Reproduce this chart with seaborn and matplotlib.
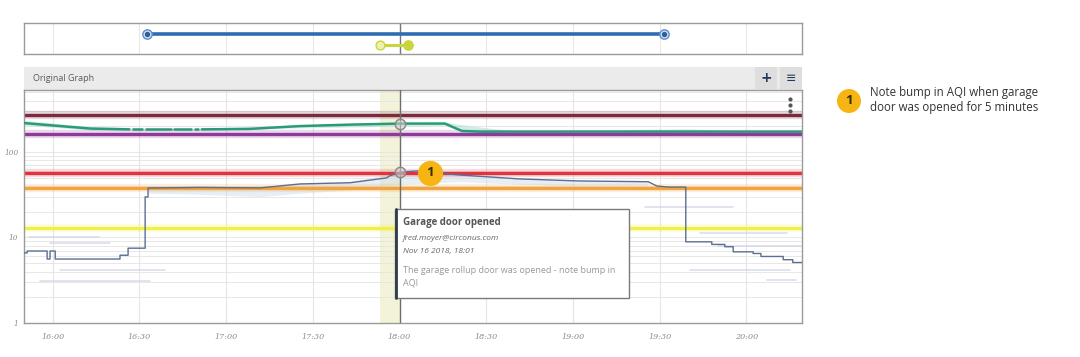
import numpy as np
import pandas as pd
import matplotlib
matplotlib.use("Agg")
import matplotlib.pyplot as plt
import seaborn as sns
from matplotlib.patches import Rectangle, Ellipse
from matplotlib.lines import Line2D
from matplotlib.ticker import LogLocator, NullFormatter

# ------------------------------------------------------------------ data
tick_minutes = [960, 990, 1020, 1050, 1080, 1110, 1140, 1170, 1200]
tick_labels = ['16:00', '16:30', '17:00', '17:30', '18:00', '18:30', '19:00', '19:30', '20:00']
ytick_values = [1, 10, 100]
ytick_labels = ['1', '10', '100']

# AQI series (minutes after midnight, value); repeated minutes mark vertical steps
aqi_minutes = [950.1, 951.2, 951.2, 958.1, 958.1, 959.1, 959.1, 960.9, 960.9, 983.3, 983.3,
               986.1, 986.1, 992.0, 992.0, 993.0, 993.0, 1011, 1031.7, 1045.6, 1062.9,
               1074.0, 1075.5, 1076.5, 1080.2, 1086, 1100.9, 1121.6, 1142.4, 1166, 1169,
               1173, 1179, 1179, 1188, 1188, 1192.5, 1192.5, 1195.4, 1195.4, 1202.3,
               1202.3, 1205, 1205, 1212.7, 1212.7, 1216, 1216, 1219.2]
aqi_values = [6.6, 6.6, 6.95, 6.95, 5.6, 5.6, 6.95, 6.95, 5.6, 5.6, 6.2,
              6.2, 7.5, 7.5, 29.8, 29.8, 37.9, 38.5, 38.0, 42.3, 43.7,
              49.0, 49.7, 52.4, 58.3, 60, 53.8, 48.4, 45.8, 44.9, 40,
              38.9, 38.9, 8.9, 8.9, 8.3, 8.3, 7.8, 7.8, 6.8, 6.8,
              6.5, 6.5, 6.0, 6.0, 5.5, 5.5, 5.1, 5.1]

# AQI min band (light shading)
aqi_band_minutes = [993, 1011, 1031.7, 1045.6, 1062.9, 1080.2, 1100.9, 1121.6, 1142.4, 1166]
aqi_band_low = [33, 32, 30, 33, 36, 42, 45, 42, 40, 41]
aqi_band_high = [39, 39.5, 39, 43, 45, 58, 55, 49, 47, 45]

# second (green) series; NaN marks the short gaps in the data
green_minutes = [950.1, 962.6, 973, 986.5, 987.0, 987.8, 991.0, 991.5, 992.2, 1000.8, 1001.3,
                 1002.0, 1008.0, 1008.5, 1009.2, 1010.4, 1010.9, 1011.6, 1028, 1045.6, 1062.9,
                 1080.2, 1095.7, 1101.6, 1108, 1219.2]
green_values = [218, 201, 188, 184, np.nan, 184, 184, np.nan, 184, 184, np.nan,
                184, 184, np.nan, 184, 184, np.nan, 184, 186, 201, 209,
                215, 215, 176, 173, 173]
green_band_minutes = [950.1, 962.6, 973, 990, 1010, 1040, 1095.7, 1101.6, 1110, 1120, 1165, 1180, 1200]
green_band_low = [205, 192, 180, 178, 179, 190, 205, 172, 170, 171, 171, 171, 171]
green_band_high = [235, 214, 198, 192, 189, 205, 224, 208, 192, 176, 184, 186, 176]

# constant threshold lines
threshold_values = [271, 162, 56.8, 37.9, 12.9]
threshold_colors = ['#7a2b3e', '#8f3a99', '#e2323e', '#f3a43d', '#f0f04c']

# faint secondary series segments (start minute, end minute, value)
faint_start = [959, 962.6, 955.7, 952, 1165, 1184, 1180.5, 1207, 1190]
faint_end = [980, 999, 993.7, 976, 1195.4, 1214, 1215, 1217, 1219]
faint_values = [8.6, 4.16, 3.1, 10.1, 22.9, 11.2, 4.16, 3.2, 8.0]

# annotation
event_start = 1073.1
event_minute = 1080.2
note_title = 'Garage door opened'
note_author = 'fred.moyer@circonus.com'
note_time = 'Nov 16 2018, 18:01'
note_body = 'The garage rollup door was opened - note bump in\nAQI'
side_note = 'Note bump in AQI when garage\ndoor was opened for 5 minutes'

# overview strip
overview_blue = [992.7, 1171.4]
overview_yellow = [1073.3, 1083.0]

# ------------------------------------------------------------------ style
sns.set_theme(style='white')
plt.rcParams['font.family'] = ['Open Sans', 'DejaVu Sans']

W, H = 1080, 357
fig = plt.figure(figsize=(W / 100, H / 100), dpi=100)
fig.patch.set_facecolor('white')


def box(x0, y0, x1, y1):
    return [x0 / W, 1 - y1 / H, (x1 - x0) / W, (y1 - y0) / H]


XMIN, XMAX = 950.1, 1219.2

# ------------------------------------------------------------------ overview strip
axt = fig.add_axes(box(24, 23, 802, 54))
axt.set_xlim(XMIN, XMAX)
axt.set_ylim(0, 1)
axt.set_xticks(tick_minutes)
axt.set_yticks([])
axt.tick_params(axis='x', length=0, labelbottom=False)
axt.grid(axis='x', color='#e8e8e8', lw=0.8)
for s in axt.spines.values():
    s.set_color('#9a9a9a')
    s.set_linewidth(1)
sns.lineplot(x=overview_blue, y=[0.645, 0.645], color='#2f6db3', lw=2.6, ax=axt, zorder=3)
axt.scatter([overview_blue[0], overview_blue[1]], [0.645, 0.645], s=45, facecolor='#cfe0f2',
            edgecolor='#5b8fcc', lw=1, zorder=4)
axt.scatter([overview_blue[0], overview_blue[1]], [0.645, 0.645], s=8, color='#2f5f9a', zorder=5)
sns.lineplot(x=overview_yellow, y=[0.29, 0.29], color='#c9d53c', lw=2.2, ax=axt, zorder=3)
axt.scatter([overview_yellow[0]], [0.29], s=40, facecolor='#eef2b0', edgecolor='#c9d53c', lw=1, zorder=4)
axt.scatter([overview_yellow[1]], [0.29], s=45, color='#c9d53c', zorder=4)
axt.axvline(event_minute, color='#777777', lw=1, zorder=2)
axt.set_xlabel('')
axt.set_ylabel('')

# ------------------------------------------------------------------ header bar
fig.add_artist(Rectangle((24 / W, 1 - 90 / H), 778 / W, 23 / H, transform=fig.transFigure,
                         facecolor='#ebebeb', edgecolor='none', zorder=0))
fig.add_artist(Rectangle((755 / W, 1 - 89 / H), 22 / W, 22 / H, transform=fig.transFigure,
                         facecolor='#dedede', edgecolor='none', zorder=1))
fig.add_artist(Rectangle((780 / W, 1 - 89 / H), 22 / W, 22 / H, transform=fig.transFigure,
                         facecolor='#dedede', edgecolor='none', zorder=1))
fig.text(33 / W, 1 - 78.5 / H, 'Original Graph', fontsize=6.5, color='#5a5a5a', va='center', ha='left')
fig.text(766 / W, 1 - 78.5 / H, '+', fontsize=10, color='#1f3a5a', va='center', ha='center',
         fontweight='bold', family='DejaVu Sans')
fig.text(791 / W, 1 - 78.5 / H, '≡', fontsize=9, color='#1f3a5a', va='center', ha='center',
         family='DejaVu Sans')

# ------------------------------------------------------------------ main graph
ax = fig.add_axes(box(24, 90, 802, 323))
ax.set_yscale('log')
ax.set_xlim(XMIN, XMAX)
ax.set_ylim(1, 531)
for s in ax.spines.values():
    s.set_color('#9a9a9a')
    s.set_linewidth(1)

# event highlight band
ax.axvspan(event_start, event_minute, color='#f2f2d6', alpha=0.9, zorder=0.5, lw=0)

# faint secondary series
for a, b, v in zip(faint_start, faint_end, faint_values):
    sns.lineplot(x=[a, b], y=[v, v], color='#ccd1e3', lw=1.2, alpha=0.7, ax=ax, zorder=1)

# green band + line
ax.fill_between(green_band_minutes, green_band_low, green_band_high, color='#a6dccb', alpha=0.5,
                lw=0, zorder=1.2)
green_df = pd.DataFrame({'minute': green_minutes, 'value': green_values})
green_df['seg'] = green_df['value'].isna().cumsum()
green_df = green_df.dropna()
sns.lineplot(data=green_df, x='minute', y='value', units='seg', estimator=None, sort=False,
             color='#2b9a78', lw=1.8, ax=ax, zorder=3)

# threshold lines
for v, c in zip(threshold_values, threshold_colors):
    ax.axhline(v, color=c, lw=6, alpha=0.18, zorder=2)
    ax.axhline(v, color=c, lw=2.4, zorder=2.5)

# AQI band + line
ax.fill_between(aqi_band_minutes, aqi_band_low, aqi_band_high, color='#c9dcec', alpha=0.45,
                lw=0, zorder=1.3)
sns.lineplot(x=aqi_minutes, y=aqi_values, color='#5a6f92', lw=1.0, ax=ax, zorder=4,
             estimator=None, sort=False)

# event line and markers
ax.axvline(event_minute, color='#6e6e6e', lw=1, zorder=5)
ax.scatter([event_minute, event_minute], [215, 58.3], s=55, facecolor=(0.85, 0.85, 0.85, 0.5),
           edgecolor='#8a8a8a', lw=1.1, zorder=6)

# numbered badge on chart
ax.scatter([1090.5], [57], s=330, color='#f6b512', zorder=7, lw=0)
ax.text(1090.5, 57, '1', ha='center', va='center', fontsize=9.5, fontweight='bold', color='#3a3000',
        zorder=8)

# kebab menu dots
ax.plot([0.985, 0.985, 0.985], [0.96, 0.935, 0.91], 'o', ms=2, color='#555555',
        transform=ax.transAxes, zorder=8)

# axes cosmetics (after seaborn calls)
ax.set_xlim(XMIN, XMAX)
ax.set_ylim(1, 531)
ax.set_xlabel('')
ax.set_ylabel('')
ax.set_xticks(tick_minutes)
ax.set_xticklabels(tick_labels, family='DejaVu Serif', style='italic', fontsize=5.8, color='#8a8a8a')
ax.set_yticks(ytick_values)
ax.set_yticklabels(ytick_labels, family='DejaVu Serif', style='italic', fontsize=5.3, color='#8a8a8a')
ax.yaxis.set_minor_locator(LogLocator(base=10, subs=range(2, 10)))
ax.yaxis.set_minor_formatter(NullFormatter())
ax.tick_params(axis='both', which='both', length=0)
ax.tick_params(axis='x', pad=7)
ax.tick_params(axis='y', pad=4)
ax.grid(axis='x', color='#e6e6e6', lw=0.8)
ax.grid(axis='y', which='both', color='#e4e4e4', lw=0.6)
ax.set_axisbelow(True)

# ------------------------------------------------------------------ tooltip
fig.add_artist(Rectangle((395 / W, 1 - 298 / H), 234 / W, 89 / H, transform=fig.transFigure,
                         facecolor='white', edgecolor='#7a7a7a', lw=1, zorder=20))
fig.add_artist(Line2D([395.5 / W, 395.5 / W], [1 - 298 / H, 1 - 209 / H], transform=fig.transFigure,
                      color='#2d3d4d', lw=2, zorder=21))
fig.text(403 / W, 1 - 222 / H, note_title, fontsize=7, fontweight='bold', color='#555555',
         va='center', ha='left', zorder=22)
fig.text(403 / W, 1 - 238 / H, note_author, fontsize=6.0, style='italic', color='#666666',
         va='center', ha='left', zorder=22)
fig.text(403 / W, 1 - 252 / H, note_time, fontsize=6.0, style='italic', color='#666666',
         va='center', ha='left', zorder=22)
fig.text(403 / W, 1 - 277 / H, note_body, fontsize=6.5, color='#999999', va='center', ha='left',
         linespacing=1.55, zorder=22)

# ------------------------------------------------------------------ side note
fig.add_artist(Ellipse((849 / W, 1 - 101 / H), 24 / W, 24 / H, transform=fig.transFigure,
                       facecolor='#f6b512', edgecolor='none', zorder=5))
fig.text(849 / W, 1 - 101 / H, '1', fontsize=9.5, fontweight='bold', color='#3a3000',
         ha='center', va='center', zorder=6)
fig.text(870 / W, 1 - 100 / H, side_note, fontsize=8.3, color='#333333', ha='left', va='center',
         linespacing=1.15)

fig.savefig('out.png', dpi=100, facecolor='white')
